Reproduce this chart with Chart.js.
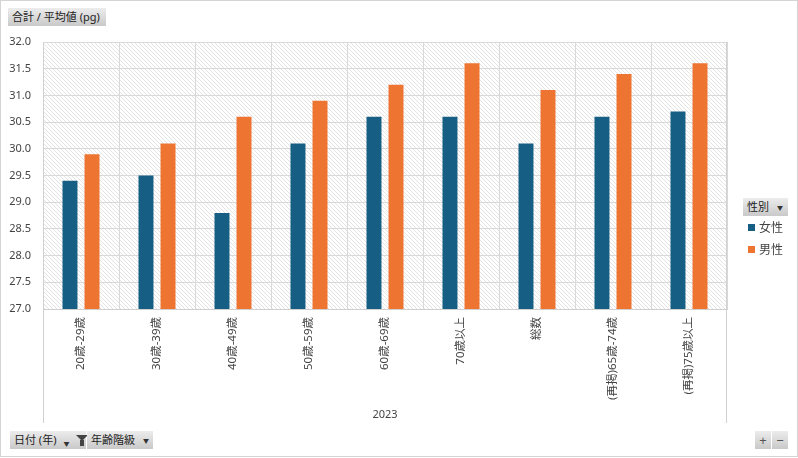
<!DOCTYPE html>
<html>
<head>
<meta charset="utf-8">
<script src="https://cdn.jsdelivr.net/npm/chart.js@4/dist/chart.umd.min.js"></script>
<style>
  html, body { margin: 0; padding: 0; background: #fff; }
  body { font-family: "Noto Sans", "Noto Sans CJK JP", sans-serif; }
  #frame { position: relative; width: 796px; height: 455px; border: 1px solid #d4d4d4; overflow: hidden; }
  #wrap { position: absolute; left: -1px; top: -1px; width: 798px; height: 458px; }
  .btn {
    position: absolute; height: 18px; line-height: 18px; font-size: 11px; color: #222;
    background: linear-gradient(#ececec, #c9c9c9); padding: 0 4px; box-sizing: border-box;
    white-space: nowrap;
  }
  .arrow { font-size: 6px; color: #333; margin-left: 8px; vertical-align: 1px; }
  .funnel { position: absolute; left: 66px; top: 4px; width: 0; height: 0;
    border-left: 6px solid transparent; border-right: 6px solid transparent; border-top: 6px solid #444; }
  .stem { position: absolute; left: 70px; top: 9px; width: 4px; height: 6px; background: #444; }
  #legend { position: absolute; left: 747px; top: 218px; font-size: 12px; color: #444; }
  #legend div { height: 22px; line-height: 18px; }
  #legend span.sw { display: inline-block; width: 7px; height: 7px; margin-right: 4px; vertical-align: 1px; }
</style>
</head>
<body>
<div id="frame">
  <div id="wrap"><canvas id="chart"></canvas></div>
  <div class="btn" style="left:7px;top:7px;width:98px;">合計 / 平均値 (pg)</div>
  <div class="btn" style="left:742px;top:197px;width:45px;">性別<span class="arrow">▼</span></div>
  <div id="legend"></div>
  <div class="btn" style="left:9px;top:430px;width:76px;">日付 (年)<span class="arrow" style="margin-left:7px;vertical-align:-2px">▼</span><span class="funnel"></span><span class="stem"></span></div>
  <div class="btn" style="left:86px;top:430px;width:66px;">年齢階級<span class="arrow">▼</span></div>
  <div class="btn" style="left:754px;top:430px;width:16px;padding:0;text-align:center;font-size:13px;color:#555">+</div>
  <div class="btn" style="left:771px;top:430px;width:16px;padding:0;text-align:center;font-size:13px;color:#555">−</div>
</div>
<script>
// data
const ageGroups = ['20歳-29歳', '30歳-39歳', '40歳-49歳', '50歳-59歳', '60歳-69歳', '70歳以上', '総数', '(再掲)65歳-74歳', '(再掲)75歳以上'];
const female = [29.4, 29.5, 28.8, 30.1, 30.6, 30.6, 30.1, 30.6, 30.7];
const male = [29.9, 30.1, 30.6, 30.9, 31.2, 31.6, 31.1, 31.4, 31.6];
const seriesNames = ['女性', '男性'];
const seriesColors = ['#175e84', '#ed7431'];
const yearLabel = '2023';

// legend
const legend = document.getElementById('legend');
seriesNames.forEach((name, i) => {
    const row = document.createElement('div');
    row.innerHTML = '<span class="sw" style="background:' + seriesColors[i] + '"></span>' + name;
    legend.appendChild(row);
});

// hatch pattern for the plot background
function makeHatch() {
    const c = document.createElement('canvas');
    c.width = 4; c.height = 4;
    const g = c.getContext('2d');
    g.fillStyle = '#ffffff';
    g.fillRect(0, 0, 4, 4);
    g.strokeStyle = '#e3e3e3';
    g.lineWidth = 1;
    g.beginPath();
    g.moveTo(-1, -1); g.lineTo(5, 5);
    g.moveTo(-1, 3); g.lineTo(1, 5);
    g.moveTo(3, -1); g.lineTo(5, 1);
    g.stroke();
    return c;
}

const plotDecor = {
    id: 'plotDecor',
    beforeDraw(chart) {
        const { ctx, chartArea } = chart;
        ctx.save();
        ctx.fillStyle = ctx.createPattern(makeHatch(), 'repeat');
        ctx.fillRect(chartArea.left, chartArea.top, chartArea.right - chartArea.left, chartArea.bottom - chartArea.top);
        ctx.restore();
    },
    afterDraw(chart) {
        const { ctx, chartArea } = chart;
        const xs = chart.scales.x;
        ctx.save();
        ctx.strokeStyle = '#d0d0d0';
        ctx.lineWidth = 1;
        ctx.beginPath();
        ctx.moveTo(chartArea.left + 0.5, chartArea.top);
        ctx.lineTo(chartArea.left + 0.5, xs.bottom);
        ctx.moveTo(chartArea.right - 0.5, chartArea.top);
        ctx.lineTo(chartArea.right - 0.5, xs.bottom);
        ctx.stroke();
        ctx.restore();
    }
};

const tickFont = { family: '"Noto Sans", "Noto Sans CJK JP", sans-serif', size: 11 };

new Chart(document.getElementById('chart'), {
    type: 'bar',
    data: {
        labels: ageGroups,
        datasets: [
            { label: seriesNames[0], data: female, backgroundColor: seriesColors[0] },
            { label: seriesNames[1], data: male, backgroundColor: seriesColors[1] }
        ]
    },
    options: {
        responsive: true,
        maintainAspectRatio: false,
        animation: false,
        datasets: { bar: { categoryPercentage: 0.58, barPercentage: 0.68 } },
        layout: { padding: { top: 42, right: 71, bottom: 35, left: 0 } },
        plugins: { legend: { display: false }, tooltip: { enabled: false } },
        scales: {
            x: {
                grid: { color: '#d9d9d9', drawTicks: false, offset: true },
                border: { color: '#cfcfcf' },
                ticks: { color: '#444', font: { ...tickFont, size: 11.5 }, minRotation: 90, maxRotation: 90, padding: 8, autoSkip: false },
                title: { display: true, text: yearLabel, color: '#444', font: tickFont, padding: { top: 0, bottom: 2 } },
                afterFit(scale) { scale.height = 114; }
            },
            y: {
                min: 27,
                max: 32,
                grid: { color: '#d9d9d9', drawTicks: false },
                border: { display: false },
                ticks: {
                    stepSize: 0.5,
                    color: '#444',
                    font: tickFont,
                    padding: 12,
                    callback: v => v.toFixed(1)
                },
                afterFit(scale) { scale.width = 43; }
            }
        }
    },
    plugins: [plotDecor]
});
</script>
</body>
</html>
